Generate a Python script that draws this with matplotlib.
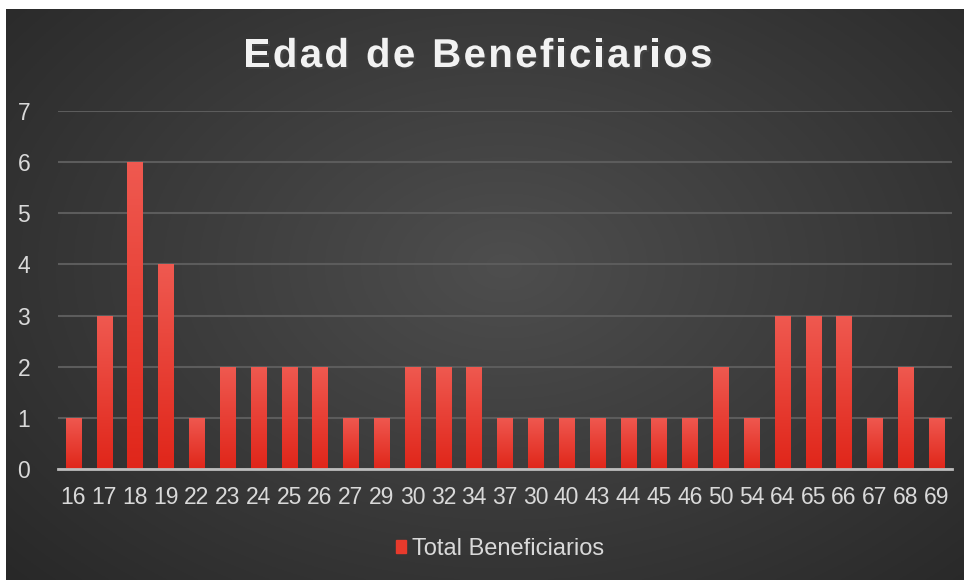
import numpy as np
import matplotlib.pyplot as plt
import matplotlib.patheffects as pe
from matplotlib.colors import LinearSegmentedColormap
from matplotlib.patches import Patch

plt.rcParams['font.family'] = ['Liberation Sans', 'DejaVu Sans']

edades = ['16', '17', '18', '19', '22', '23', '24', '25', '26', '27', '29', '30',
          '32', '34', '37', '30', '40', '43', '44', '45', '46', '50', '54', '64',
          '65', '66', '67', '68', '69']
total = [1, 3, 6, 4, 1, 2, 2, 2, 2, 1, 1, 2, 2, 2, 1, 1, 1, 1, 1, 1, 1, 2, 1,
         3, 3, 3, 1, 2, 1]
titulo = 'Edad de Beneficiarios'

W, H = 967, 580
fig = plt.figure(figsize=(W / 100, H / 100), dpi=100, facecolor='white')

# dark panel with radial gradient
bg = fig.add_axes([6 / W, 0, (964 - 6) / W, (580 - 9) / H])
bg.set_axis_off()
yy, xx = np.mgrid[0:1:300j, 0:1:500j]
r = np.sqrt(((xx - 0.52) / 0.75) ** 2 + ((yy - 0.55) / 0.85) ** 2)
r = np.clip(r, 0, 1)
lo = np.array([0x26, 0x26, 0x26]) / 255
hi = np.array([0x4e, 0x4e, 0x4e]) / 255
img = hi[None, None, :] * (1 - r[..., None]) + lo[None, None, :] * r[..., None]
bg.imshow(img, aspect='auto', extent=[0, 1, 0, 1], origin='lower')
bg.set_xlim(0, 1)
bg.set_ylim(0, 1)

ax = fig.add_axes([58 / W, (580 - 469) / H, (952 - 58) / W, (469 - 111) / H])
ax.patch.set_alpha(0)
x = np.arange(len(edades))
bars = ax.bar(x, total, width=0.5, color='#e83a2c', zorder=3,
              path_effects=[pe.SimpleLineShadow(offset=(1.5, -1), alpha=0.5), pe.Normal()])

# gradient fill inside each bar
grad = np.linspace(0, 1, 100).reshape(-1, 1)
cmap = LinearSegmentedColormap.from_list('rojo', ['#e0261a', '#ef5950'])
for b in bars:
    bx, bw, bh = b.get_x(), b.get_width(), b.get_height()
    im = ax.imshow(grad, cmap=cmap, aspect='auto', origin='lower',
                   extent=[bx, bx + bw, 0, bh], zorder=4)
    im.set_clip_path(b)

ax.set_xlim(-0.5, len(edades) - 0.5)
ax.set_ylim(0, 7)
ax.set_yticks(range(8))
ax.set_xticks(x)
ax.set_xticklabels(edades)
ax.grid(axis='y', color='#5c5c5c', linewidth=1.5, zorder=0)
for s in ['top', 'right', 'left']:
    ax.spines[s].set_visible(False)
ax.spines['bottom'].set_color('#bdbdbd')
ax.spines['bottom'].set_linewidth(2)
ax.spines['bottom'].set_zorder(5)
ax.tick_params(axis='both', length=0, colors='#d9d9d9', labelsize=16.5)
ax.tick_params(axis='x', pad=12)
ax.tick_params(axis='y', pad=20)

# title with slight letter spacing
renderer = fig.canvas.get_renderer()
tstyle = dict(color='#f2f2f2', fontsize=29, fontweight='bold', va='center',
              path_effects=[pe.withSimplePatchShadow(offset=(1.5, -1.5), alpha=0.6)])
track = 2.3
widths = []
for ch in titulo:
    t = fig.text(0, 0, ch if ch != ' ' else 'n', **tstyle)
    w = t.get_window_extent(renderer).width
    t.remove()
    widths.append(w * (0.5 if ch == ' ' else 1.0))
total_w = sum(widths) + track * (len(titulo) - 1)
xpos = 478 - total_w / 2
for ch, w in zip(titulo, widths):
    if ch != ' ':
        fig.text(xpos / W, 1 - 56 / H, ch, ha='left', **tstyle)
    xpos += w + track

leg = fig.legend(handles=[Patch(color='#e83a2c', label='Total Beneficiarios')],
                 loc='center', bbox_to_anchor=(500 / W, 1 - 549 / H), frameon=False,
                 fontsize=17, handlelength=0.45, handleheight=0.45, handletextpad=0.25)
for t in leg.get_texts():
    t.set_color('#d9d9d9')

fig.savefig('out.png', dpi=100, facecolor='white')
